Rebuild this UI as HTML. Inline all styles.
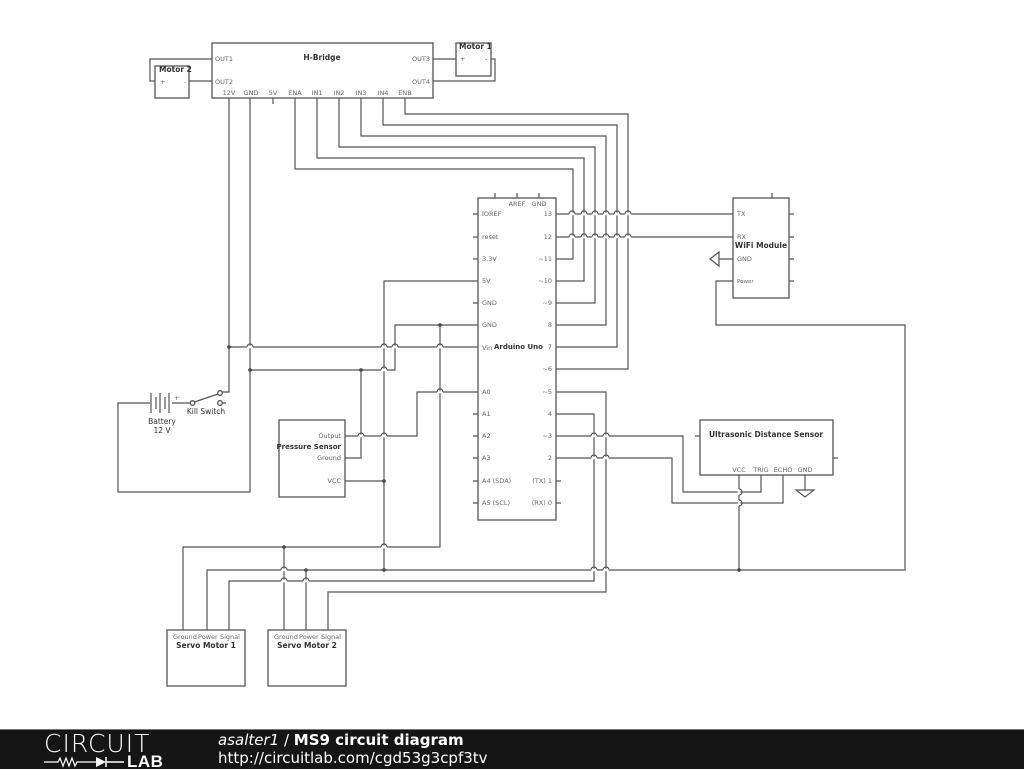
<!DOCTYPE html>
<html><head><meta charset="utf-8">
<style>
html,body{margin:0;padding:0;background:#fff;}
body{width:1024px;height:768px;overflow:hidden;position:relative;font-family:"Liberation Sans","DejaVu Sans",sans-serif;}
svg{position:absolute;left:0;top:0;}
.w{fill:none;stroke:#555;stroke-width:1.2;}
.b{fill:#fff;stroke:#555;stroke-width:1.3;}
.t{font-family:"DejaVu Sans","Liberation Sans",sans-serif;font-size:6.5px;fill:#666;}
.h{font-family:"DejaVu Sans","Liberation Sans",sans-serif;font-size:7.5px;font-weight:bold;fill:#333;}
#bar{position:absolute;left:0;top:729px;width:1024px;height:39px;background:#151515;border-top:1px solid #777;}
</style></head><body>
<svg width="1024" height="768" viewBox="0 0 1024 768">
<rect class="b" x="212" y="43" width="221" height="55"/>
<text class="h" x="322" y="60" text-anchor="middle">H-Bridge</text>
<text class="t" x="215" y="61">OUT1</text>
<text class="t" x="215" y="84">OUT2</text>
<text class="t" x="430" y="61" text-anchor="end">OUT3</text>
<text class="t" x="430" y="84" text-anchor="end">OUT4</text>
<g class="t" text-anchor="middle">
<text x="229" y="95">12V</text><text x="251" y="95">GND</text><text x="273" y="95">5V</text><text x="295" y="95">ENA</text><text x="317" y="95">IN1</text><text x="339" y="95">IN2</text><text x="361" y="95">IN3</text><text x="383" y="95">IN4</text><text x="405" y="95">ENB</text>
</g>
<rect class="b" x="155" y="66" width="34" height="32"/>
<text class="h" x="159" y="72">Motor 2</text>
<text class="t" x="160" y="84">+</text><text class="t" x="184" y="84">-</text>
<rect class="b" x="456" y="43" width="35" height="33"/>
<text class="h" x="459" y="49">Motor 1</text>
<text class="t" x="460" y="61">+</text><text class="t" x="485" y="61">-</text>
<path class="w" d="M212 59H150V81H155 M189 81H212 M433 59H456 M491 59H495V81H433"/>
<path class="w" d="M273 98V104 M405 98V114H628V369H556 M383 98V125H617V347H556 M361 98V136H606V325H556 M339 98V147H595V303H556 M317 98V158H584V281H556 M295 98V169H573V259H556"/>
<rect class="b" x="478" y="198" width="78" height="322"/>
<text class="h" x="494" y="349" style="font-size:7px">Arduino Uno</text>
<path class="w" d="M495 193V198 M517 193V198 M539 193V198"/>
<text class="t" x="517" y="206" text-anchor="middle">AREF</text>
<text class="t" x="539" y="206" text-anchor="middle">GND</text>
<g class="t">
<text x="482" y="216">IOREF</text><text x="482" y="239">reset</text><text x="482" y="261">3.3V</text><text x="482" y="283">5V</text><text x="482" y="305">GND</text><text x="482" y="327">GND</text><text x="482" y="350">Vin</text><text x="482" y="394">A0</text><text x="482" y="416">A1</text><text x="482" y="438">A2</text><text x="482" y="460">A3</text><text x="482" y="483">A4 (SDA)</text><text x="482" y="505">A5 (SCL)</text>
</g>
<g class="t" text-anchor="end">
<text x="552" y="216">13</text><text x="552" y="239">12</text><text x="552" y="261">~11</text><text x="552" y="283">~10</text><text x="552" y="305">~9</text><text x="552" y="327">8</text><text x="552" y="349">7</text><text x="552" y="371">~6</text><text x="552" y="394">~5</text><text x="552" y="416">4</text><text x="552" y="438">~3</text><text x="552" y="460">2</text><text x="552" y="483">(TX) 1</text><text x="552" y="505">(RX) 0</text>
</g>
<path class="w" d="M473 214H478 M473 237H478 M473 259H478 M473 303H478 M473 414H478 M473 436H478 M473 458H478 M473 481H478 M473 503H478 M556 481H561 M556 503H561"/>
<rect class="b" x="733" y="198" width="56" height="100"/>
<text class="h" x="761" y="248" text-anchor="middle">WiFi Module</text>
<g class="t"><text x="737" y="216">TX</text><text x="737" y="239">RX</text><text x="737" y="261">GND</text><text x="737" y="283" font-size="5.5">Power</text></g>
<path class="w" d="M772 193V198 M789 214H794 M789 237H794 M789 259H794 M789 281H794 M733 259H719 M719 252L710 259L719 266Z"/>
<path class="w" d="M556 214H733 M556 237H733 M733 281H716V325H905V570H207V630"/>
<rect class="b" x="700" y="420" width="133" height="55"/>
<text class="h" x="766" y="437" text-anchor="middle">Ultrasonic Distance Sensor</text>
<g class="t" text-anchor="middle"><text x="739" y="472">VCC</text><text x="761" y="472">TRIG</text><text x="783" y="472">ECHO</text><text x="805" y="472">GND</text></g>
<path class="w" d="M695 436H700 M833 458H838 M805 475V490 M796 490H814L805 497Z"/>
<path class="w" d="M556 436H683V492H761V475 M556 458H672V503H783V475 M739 475V570"/>
<path class="w" d="M556 392H606V592H328V630 M556 414H594V581H229V630"/>
<path class="w" d="M229 98V392H221 M250 98V492H118V403H150 M172 403H190"/>
<path class="w" d="M478 347H229 M478 281H384V570 M478 325H395V370H250 M440 325V547H183V630 M284 547V630 M306 570V630"/>
<path class="w" d="M478 392H417V436H345 M345 458H361V370 M345 481H384"/>
<path class="w" d="M151 393V413 M156 397V409 M160 393V413 M165 397V409 M169 393V413"/>
<text class="t" x="174" y="400" font-size="8">+</text>
<circle class="b" cx="192.5" cy="403" r="2.3"/>
<circle class="b" cx="220" cy="393" r="2.3"/>
<circle class="b" cx="220" cy="403" r="2.3"/>
<path class="w" d="M194.5 402L218 394 M222.3 403H226"/>
<text class="h" x="206" y="414" text-anchor="middle" style="font-weight:normal;fill:#333">Kill Switch</text>
<text class="h" x="162" y="424" text-anchor="middle" style="font-weight:normal;fill:#333">Battery</text>
<text class="h" x="162" y="433" text-anchor="middle" style="font-weight:normal;fill:#333">12 V</text>
<rect class="b" x="279" y="420" width="66" height="77"/>
<text class="h" x="341" y="449" text-anchor="end" style="font-size:7px">Pressure Sensor</text>
<g class="t" text-anchor="end"><text x="341" y="438">Output</text><text x="341" y="460">Ground</text><text x="341" y="483">VCC</text></g>
<rect class="b" x="167" y="630" width="78" height="56"/>
<rect class="b" x="268" y="630" width="78" height="56"/>
<g class="t" font-size="6"><text x="173" y="639">Ground</text><text x="198" y="639">Power</text><text x="220" y="639">Signal</text>
<text x="274" y="639">Ground</text><text x="299" y="639">Power</text><text x="321" y="639">Signal</text></g>
<text class="h" x="206" y="648" text-anchor="middle">Servo Motor 1</text>
<text class="h" x="307" y="648" text-anchor="middle">Servo Motor 2</text>
<g fill="#444">
<circle cx="229" cy="347" r="1.8"/><circle cx="250" cy="370" r="1.8"/><circle cx="361" cy="370" r="1.8"/><circle cx="440" cy="325" r="1.8"/><circle cx="384" cy="481" r="1.8"/><circle cx="384" cy="570" r="1.8"/><circle cx="284" cy="547" r="1.8"/><circle cx="306" cy="570" r="1.8"/><circle cx="739" cy="570" r="1.8"/>
</g>
<g>
<path fill="none" stroke="#fff" stroke-width="2.5" d="M569 214h6M581 214h6M592 214h6M603 214h6M614 214h6M625 214h6 M569 237h6M581 237h6M592 237h6M603 237h6M614 237h6M625 237h6 M247 347h6M381 347h6M392 347h6M437 347h6 M381 370h6 M437 392h6 M358 436h6M381 436h6 M381 547h6 M281 570h6M591 570h6M603 570h6 M281 581h6M303 581h6 M591 436h6M603 436h6M591 458h6M603 458h6"/>
<path class="w" d="M569 214a3 3 0 0 1 6 0M581 214a3 3 0 0 1 6 0M592 214a3 3 0 0 1 6 0M603 214a3 3 0 0 1 6 0M614 214a3 3 0 0 1 6 0M625 214a3 3 0 0 1 6 0 M569 237a3 3 0 0 1 6 0M581 237a3 3 0 0 1 6 0M592 237a3 3 0 0 1 6 0M603 237a3 3 0 0 1 6 0M614 237a3 3 0 0 1 6 0M625 237a3 3 0 0 1 6 0 M247 347a3 3 0 0 1 6 0M381 347a3 3 0 0 1 6 0M392 347a3 3 0 0 1 6 0M437 347a3 3 0 0 1 6 0 M381 370a3 3 0 0 1 6 0 M437 392a3 3 0 0 1 6 0 M358 436a3 3 0 0 1 6 0M381 436a3 3 0 0 1 6 0 M381 547a3 3 0 0 1 6 0 M281 570a3 3 0 0 1 6 0M591 570a3 3 0 0 1 6 0M603 570a3 3 0 0 1 6 0 M281 581a3 3 0 0 1 6 0M303 581a3 3 0 0 1 6 0 M591 436a3 3 0 0 1 6 0M603 436a3 3 0 0 1 6 0M591 458a3 3 0 0 1 6 0M603 458a3 3 0 0 1 6 0"/>
<path fill="none" stroke="#fff" stroke-width="2.5" d="M739 489v6M739 500v6"/>
<path class="w" d="M739 489a3 3 0 0 1 0 6M739 500a3 3 0 0 1 0 6"/>
</g>
</svg>
<div id="bar">
<div style="position:absolute;left:44px;top:1px;color:#fff;font-family:'DejaVu Sans','Liberation Sans',sans-serif;font-size:25px;font-weight:200;letter-spacing:1px;line-height:26px;">CIRCUIT</div>
<svg width="130" height="14" style="position:absolute;left:44px;top:25px;" viewBox="0 0 130 14">
<path d="M0 7H14l2-4 3 8 3-8 3 8 3-8 3 8 2-4H52" stroke="#fff" stroke-width="1.2" fill="none"/>
<path d="M52 2L62 7L52 12Z" fill="#fff"/><path d="M62 2V12 M62 7H80" stroke="#fff" stroke-width="1.5"/>
</svg>
<div style="position:absolute;left:127px;top:23px;color:#fff;font-family:'Liberation Sans',sans-serif;font-size:17px;font-weight:bold;line-height:17px;letter-spacing:0.5px;">LAB</div>
<div style="position:absolute;left:218px;top:1px;color:#fff;font-family:'DejaVu Sans','Liberation Sans',sans-serif;font-size:15px;line-height:18px;"><i>asalter1</i> / <b>MS9 circuit diagram</b></div>
<div style="position:absolute;left:218px;top:19px;color:#fff;font-family:'DejaVu Sans','Liberation Sans',sans-serif;font-size:15px;line-height:18px;">http://circuitlab.com/cgd53g3cpf3tv</div>
</div>
</body></html>
